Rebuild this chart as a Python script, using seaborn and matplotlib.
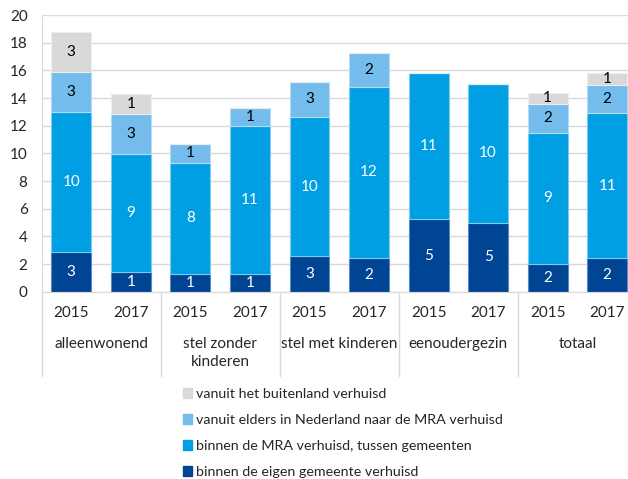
import pandas as pd
import matplotlib.pyplot as plt
import seaborn as sns
from matplotlib.patches import Patch

# data (x 1.000 huishoudens)
years = ["2015", "2017"] * 5
groups = ["alleenwonend", "stel zonder\nkinderen", "stel met kinderen", "eenoudergezin", "totaal"]
eigen_gemeente = [2.9, 1.4, 1.3, 1.3, 2.55, 2.45, 5.23, 5.0, 2.02, 2.41]
binnen_mra = [10.1, 8.56, 8.03, 10.7, 10.08, 12.35, 10.56, 10.0, 9.45, 10.52]
elders_nl = [2.9, 2.89, 1.33, 1.3, 2.55, 2.48, 0, 0, 2.1, 2.0]
buitenland = [2.9, 1.42, 0, 0, 0, 0, 0, 0, 0.82, 0.85]

series = ["binnen de eigen gemeente verhuisd",
          "binnen de MRA verhuisd, tussen gemeenten",
          "vanuit elders in Nederland naar de MRA verhuisd",
          "vanuit het buitenland verhuisd"]
colors = ["#004494", "#009FE3", "#74BCEC", "#D9D9D9"]
edges = ["#5A8CC4", "#7FCBF0", "#B5DCF5", "#EDEDED"]
text_colors = ["white", "white", "black", "black"]

sns.set_style("white")
plt.rcParams['font.family'] = ['Lato', 'DejaVu Sans']

df = pd.DataFrame({"bar": range(10),
                   series[0]: eigen_gemeente,
                   series[1]: binnen_mra,
                   series[2]: elders_nl,
                   series[3]: buitenland})
cum = df[series].cumsum(axis=1)

fig = plt.figure(figsize=(6.28, 4.79), dpi=100)
ax = fig.add_axes([41.5 / 628, 1 - 291.7 / 479, (637 - 41.5) / 628, 276.7 / 479])

# stacked segments: each layer drawn on top of the previous one
for i, s in enumerate(series):
    bottoms = cum[s] - df[s]
    sns.barplot(x=df["bar"], y=df[s], bottom=bottoms.values, color=colors[i], width=0.67,
                saturation=1, edgecolor=edges[i], linewidth=0.8, ax=ax, zorder=2)
    for b in range(10):
        v = df[s][b]
        if v > 0.5:
            ax.text(b, bottoms[b] + v / 2, f"{v:.0f}", ha="center", va="center",
                    color=text_colors[i], fontsize=11, zorder=3)

ax.set_xlim(-0.5, 9.5)
ax.set_ylim(0, 20)
ax.set_yticks(range(0, 21, 2))
ax.yaxis.grid(True, color="#D9D9D9", linewidth=1)
ax.set_axisbelow(True)
for sp in ["top", "right"]:
    ax.spines[sp].set_visible(False)
ax.spines["left"].set_color("#D9D9D9")
ax.spines["bottom"].set_color("#D9D9D9")
ax.tick_params(axis="y", length=0, pad=10, labelsize=11)
ax.set_xticks(range(10))
ax.set_xticklabels(years)
ax.tick_params(axis="x", length=0, pad=10, labelsize=11)
ax.set_xlabel("")
ax.set_ylabel("")

# group labels and separators below the axis
trans = ax.get_xaxis_transform()
for k in range(6):
    ax.plot([2 * k - 0.5, 2 * k - 0.5], [0, -0.305], transform=trans,
            color="#D9D9D9", linewidth=1, clip_on=False)
for k, g in enumerate(groups):
    ax.text(2 * k + 0.5, -0.165, g, transform=trans, ha="center", va="top",
            fontsize=11, linespacing=1.35)

handles = [Patch(color=colors[i], label=series[i]) for i in range(3, -1, -1)]
fig.legend(handles=handles, loc="upper left", bbox_to_anchor=(176 / 628, 1 - 381 / 479),
           frameon=False, fontsize=10.3, handlelength=0.65, handleheight=0.7,
           handletextpad=0.25, labelspacing=0.97, borderpad=0)

fig.savefig("out.png", dpi=100)
